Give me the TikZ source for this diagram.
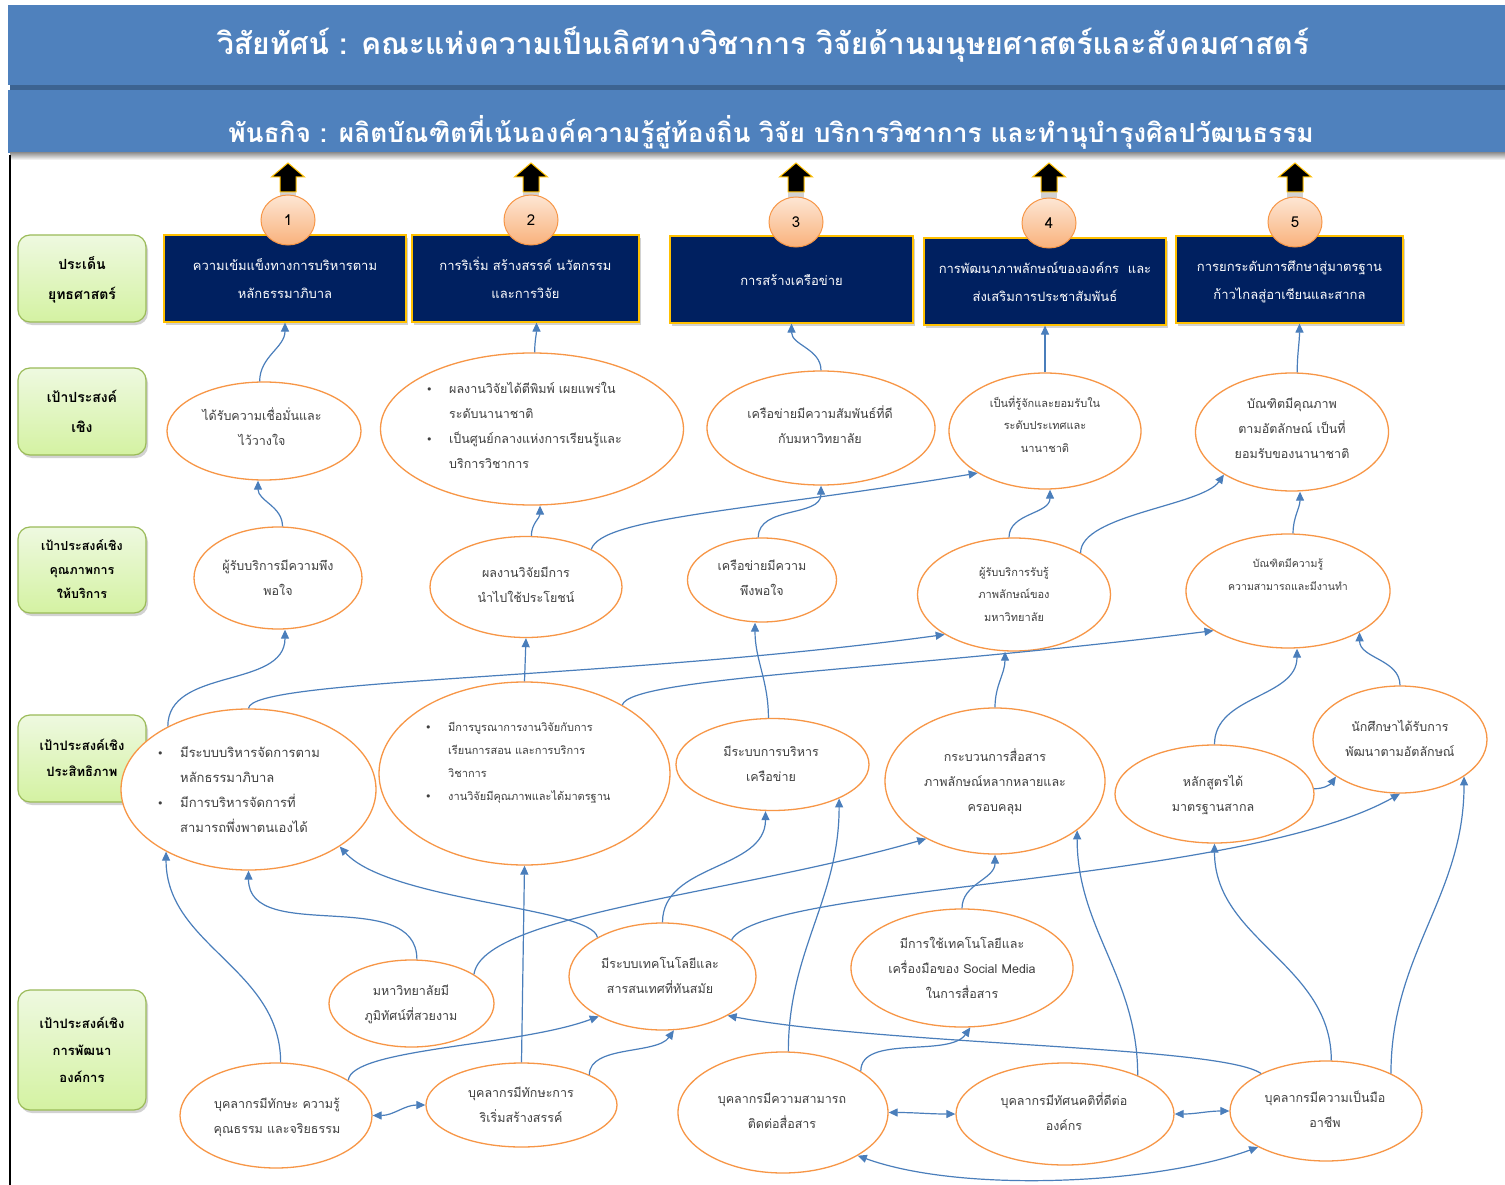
\documentclass[tikz,border=0pt]{standalone}
\usepackage{fontspec}
\newfontfamily\thai[Script=Thai]{Loma}
\newfontfamily\dejavu{DejaVu Sans}
\usetikzlibrary{shapes.geometric,arrows.meta,shadows}
\definecolor{hdrblue}{HTML}{4F81BD}
\definecolor{hdrdark}{HTML}{3C6391}
\definecolor{navy}{HTML}{002060}
\definecolor{gold}{HTML}{FFC000}
\definecolor{orng}{HTML}{F79646}
\definecolor{conncol}{HTML}{4A7EBB}
\definecolor{txtgray}{HTML}{404040}
\definecolor{grnborder}{HTML}{9BBB59}
\definecolor{grntop}{HTML}{EEF9E0}
\definecolor{grnbot}{HTML}{D4F2A2}
\definecolor{peachtop}{HTML}{FDE6D4}
\definecolor{peachbot}{HTML}{F9B27C}
\newcommand\bul{\makebox[23pt][l]{{\dejavu\fontsize{11}{11}\selectfont •}}}
\newcommand\ind{\hspace*{23pt}}
\begin{document}
\begin{tikzpicture}[x=1pt,y=-1pt,
 conn/.style={draw=conncol,line width=1.2pt,-{Triangle[length=9pt,width=8pt]}},
 bconn/.style={draw=conncol,line width=1.2pt,{Triangle[length=9pt,width=8pt]}-{Triangle[length=9pt,width=8pt]}},
 ell/.style={ellipse,draw=orng,line width=1.3pt,fill=white,inner sep=0pt},
 etxt/.style={text=txtgray,align=center,inner sep=0pt,font=\thai\fontsize{12.5}{25}\selectfont},
 stxt/.style={etxt,font=\thai\fontsize{11}{22.5}\selectfont},
 btxt/.style={etxt,align=left,anchor=west},
 shad/.style={drop shadow={opacity=0.35,shadow xshift=2pt,shadow yshift=-3pt}},
 grn/.style={rounded corners=12pt,draw=grnborder,line width=1.2pt,top color=grntop,bottom color=grnbot,minimum width=128pt,align=center,inner sep=0pt,font=\thai\bfseries\fontsize{14}{30}\selectfont,shad},
 navybox/.style={fill=navy,draw=gold,line width=1.2pt,text=white,align=center,inner sep=0pt,minimum height=87pt,font=\thai\fontsize{13}{28}\selectfont,shad},
 numc/.style={ellipse,draw=orng,line width=1pt,top color=peachtop,bottom color=peachbot,minimum width=54pt,minimum height=50pt,inner sep=0pt,font=\thai\fontsize{15}{15}\selectfont},
 hdrtxt/.style={text=white,inner sep=0pt,font=\thai\bfseries\fontsize{30}{30}\selectfont}
]
\useasboundingbox (0,0) rectangle (1505,1185);
\fill[white] (0,0) rectangle (1505,1185);
% header
\fill[hdrblue] (8,5) rectangle (1505,85);
\fill[hdrdark] (10,85) rectangle (1505,90);
\fill[hdrblue] (8,90) rectangle (1505,153);
\shade[top color=gray!80,bottom color=white] (10,153) rectangle (1505,160);
\draw[black,line width=2pt] (10,155) -- (10,1185);
\node[hdrtxt] (vision) at (763,45) {วิสัยทัศน์ : คณะแห่งความเป็นเลิศทางวิชาการ วิจัยด้านมนุษยศาสตร์และสังคมศาสตร์};
\node[hdrtxt,font=\thai\bfseries\fontsize{26.3}{30}\selectfont] (mission) at (771,132) {พันธกิจ : ผลิตบัณฑิตที่เน้นองค์ความรู้สู่ท้องถิ่น วิจัย บริการวิชาการ และทำนุบำรุงศิลปวัฒนธรรม};

% left labels
\node[grn,minimum height=87pt] (g1) at (82,278.5) {\strut ประเด็น\\\strut ยุทธศาสตร์};
\node[grn,minimum height=87pt] (g2) at (82,411.5) {\strut เป้าประสงค์\\\strut เชิง};
\node[grn,minimum height=86pt,font=\thai\bfseries\fontsize{12.5}{24}\selectfont] (g3) at (82,570) {\strut เป้าประสงค์เชิง\\\strut คุณภาพการ\\\strut ให้บริการ};
\node[grn,minimum height=87pt,font=\thai\bfseries\fontsize{13}{26}\selectfont] (g4) at (82,758.5) {\strut เป้าประสงค์เชิง\\\strut ประสิทธิภาพ};
\node[grn,minimum height=120pt,font=\thai\bfseries\fontsize{13}{27}\selectfont] (g5) at (82,1050) {\strut เป้าประสงค์เชิง\\\strut การพัฒนา\\\strut องค์การ};

% strategy boxes
\node[navybox,minimum width=242pt] (box1) at (285,278.5) {\strut ความเข้มแข็งทางการบริหารตาม\\\strut หลักธรรมาภิบาล};
\node[navybox,minimum width=227pt] (box2) at (525.5,278.5) {\strut การริเริ่ม สร้างสรรค์ นวัตกรรม\\\strut และการวิจัย};
\node[navybox,minimum width=243pt] (box3) at (791.5,279.5) {\strut การสร้างเครือข่าย};
\node[navybox,minimum width=242pt] (box4) at (1045,281.5) {\strut การพัฒนาภาพลักษณ์ขององค์กร~~และ\\\strut ส่งเสริมการประชาสัมพันธ์};
\node[navybox,minimum width=227pt] (box5) at (1289.5,279.5) {\strut การยกระดับการศึกษาสู่มาตรฐาน\\\strut ก้าวไกลสู่อาเซียนและสากล};

\foreach \i/\x/\y in {1/288/220,2/531/220,3/796/222,4/1049/223,5/1295/222}{
  \fill[gray!35] (\x-8,192) rectangle (\x+8,198);
  \filldraw[fill=black,draw=gold,line width=1pt] (\x,163) -- (\x+16.5,177) -- (\x+8,177) -- (\x+8,192) -- (\x-8,192) -- (\x-8,177) -- (\x-16.5,177) -- cycle;
  \node[numc] (n\i) at (\x,\y) {\i};
}

% row A
\node[ell,minimum width=194pt,minimum height=98pt] (A1) at (264,431) {};
\node[etxt] (A1t) at (262,428) {\strut ได้รับความเชื่อมั่นและ\\\strut ไว้วางใจ};
\node[ell,minimum width=303pt,minimum height=152pt] (A2) at (532,429) {};
\node[btxt] (A2t) at (426,425.5) {\strut\bul ผลงานวิจัยได้ตีพิมพ์ เผยแพร่ใน\\\strut\ind ระดับนานาชาติ\\\strut\bul เป็นศูนย์กลางแห่งการเรียนรู้และ\\\strut\ind บริการวิชาการ};
\node[ell,minimum width=228pt,minimum height=114pt] (A3) at (821,428) {};
\node[etxt] (A3t) at (820,425.5) {\strut เครือข่ายมีความสัมพันธ์ที่ดี\\\strut กับมหาวิทยาลัย};
\node[ell,minimum width=192pt,minimum height=116pt] (A4) at (1045,431) {};
\node[stxt] (A4t) at (1045,425) {\strut เป็นที่รู้จักและยอมรับใน\\\strut ระดับประเทศและ\\\strut นานาชาติ};
\node[ell,minimum width=193pt,minimum height=118pt] (A5) at (1292,432) {};
\node[etxt] (A5t) at (1292,428) {\strut บัณฑิตมีคุณภาพ\\\strut ตามอัตลักษณ์ เป็นที่\\\strut ยอมรับของนานาชาติ};

% row B
\node[ell,minimum width=168pt,minimum height=102pt] (B1) at (278,578) {};
\node[etxt] (B1t) at (278,578) {\strut ผู้รับบริการมีความพึง\\\strut พอใจ};
\node[ell,minimum width=192pt,minimum height=101pt] (B2) at (526,587) {};
\node[etxt] (B2t) at (526,585) {\strut ผลงานวิจัยมีการ\\\strut นำไปใช้ประโยชน์};
\node[ell,minimum width=149pt,minimum height=84pt] (B3) at (762,580) {};
\node[etxt] (B3t) at (762,578) {\strut เครือข่ายมีความ\\\strut พึงพอใจ};
\node[ell,minimum width=193pt,minimum height=113pt] (B4) at (1014,594.5) {};
\node[stxt] (B4t) at (1014,594) {\strut ผู้รับบริการรับรู้\\\strut ภาพลักษณ์ของ\\\strut มหาวิทยาลัย};
\node[ell,minimum width=204pt,minimum height=114pt] (B5) at (1288,591) {};
\node[stxt,font=\thai\fontsize{10.5}{22.5}\selectfont] (B5t) at (1288,574.5) {\strut บัณฑิตมีความรู้\\\strut ความสามารถและมีงานทำ};

% row C
\node[ell,minimum width=255pt,minimum height=161pt] (C1) at (248.5,789.5) {};
\node[btxt,font=\thai\fontsize{13}{25}\selectfont] (C1t) at (157,789.5) {\strut\bul มีระบบบริหารจัดการตาม\\\strut\ind หลักธรรมาภิบาล\\\strut\bul มีการบริหารจัดการที่\\\strut\ind สามารถพึ่งพาตนเองได้};
\node[ell,minimum width=291pt,minimum height=183pt] (C2) at (524.5,773.5) {};
\node[btxt,font=\thai\fontsize{11}{23}\selectfont] (C2t) at (425,761.5) {\strut\bul มีการบูรณาการงานวิจัยกับการ\\\strut\ind เรียนการสอน และการบริการ\\\strut\ind วิชาการ\\\strut\bul งานวิจัยมีคุณภาพและได้มาตรฐาน};
\node[ell,minimum width=193pt,minimum height=92pt] (C3) at (772.5,764.5) {};
\node[etxt] (C3t) at (771,764) {\strut มีระบบการบริหาร\\\strut เครือข่าย};
\node[ell,minimum width=220pt,minimum height=146pt] (C4) at (995,781) {};
\node[etxt] (C4t) at (995,781) {\strut กระบวนการสื่อสาร\\\strut ภาพลักษณ์หลากหลายและ\\\strut ครอบคลุม};
\node[ell,minimum width=199pt,minimum height=98pt] (C5) at (1214.5,794) {};
\node[etxt] (C5t) at (1213,793.5) {\strut หลักสูตรได้\\\strut มาตรฐานสากล};
\node[ell,minimum width=174pt,minimum height=107pt] (C6) at (1400,739.5) {};
\node[etxt] (C6t) at (1400,738.5) {\strut นักศึกษาได้รับการ\\\strut พัฒนาตามอัตลักษณ์};

% row D
\node[ell,minimum width=165pt,minimum height=87pt] (D1) at (411.5,1003.5) {};
\node[etxt] (D1t) at (411,1002.5) {\strut มหาวิทยาลัยมี\\\strut ภูมิทัศน์ที่สวยงาม};
\node[ell,minimum width=187pt,minimum height=107pt] (D2) at (662.5,976.5) {};
\node[etxt] (D2t) at (660,975.5) {\strut มีระบบเทคโนโลยีและ\\\strut สารสนเทศที่ทันสมัย};
\node[ell,minimum width=222pt,minimum height=118pt] (D3) at (962,968) {};
\node[etxt] (D3t) at (962,968) {\strut มีการใช้เทคโนโลยีและ\\\strut เครื่องมือของ Social Media\\\strut ในการสื่อสาร};

% row E
\node[ell,minimum width=192pt,minimum height=105pt] (E1) at (276,1115.5) {};
\node[etxt] (E1t) at (277,1115.5) {\strut บุคลากรมีทักษะ ความรู้\\\strut คุณธรรม และจริยธรรม};
\node[ell,minimum width=191pt,minimum height=84pt] (E2) at (521.5,1105) {};
\node[etxt] (E2t) at (521,1104.5) {\strut บุคลากรมีทักษะการ\\\strut ริเริ่มสร้างสรรค์};
\node[ell,minimum width=210pt,minimum height=121pt] (E3) at (783,1112.5) {};
\node[etxt] (E3t) at (782,1110.5) {\strut บุคลากรมีความสามารถ\\\strut ติดต่อสื่อสาร};
\node[ell,minimum width=218pt,minimum height=102pt] (E4) at (1065,1114) {};
\node[etxt] (E4t) at (1064,1113) {\strut บุคลากรมีทัศนคติที่ดีต่อ\\\strut องค์กร};
\node[ell,minimum width=192pt,minimum height=100pt] (E5) at (1326,1111) {};
\node[etxt] (E5t) at (1325,1109.5) {\strut บุคลากรมีความเป็นมือ\\\strut อาชีพ};

% connectors A -> boxes
\draw[conn] (A1.95) to[out=90,in=-90] (box1.south);
\draw[conn] (A2.88) to[out=90,in=-90] ([xshift=11pt]box2.south);
\draw[conn] (A3.north) to[out=90,in=-90] (box3.south);
\draw[conn] (A4.north) to[out=90,in=-90] (box4.south);
\draw[conn] (A5.85) to[out=90,in=-90] ([xshift=10pt]box5.south);
% B -> A
\draw[conn] (B1.85) to[out=90,in=-90] ([xshift=-6pt]A1.south);
\draw[conn] (B2.84) to[out=90,in=-90] ([xshift=8pt]A2.south);
\draw[conn] (B2.30) .. controls +(10,-32) and +(-230,38) .. (A4.212);
\draw[conn] (B3.95) to[out=90,in=-90] (A3.south);
\draw[conn] (B4.95) to[out=90,in=-90] ([xshift=5pt]A4.south);
\draw[conn] (B4.32) to[out=90,in=235,looseness=0.6] (A5.212);
\draw[conn] (B5.85) to[out=90,in=-90] ([xshift=8pt]A5.south);
% C -> B
\draw[conn] (C1.142) to[out=90,in=-90] ([xshift=7pt]B1.south);
\draw[conn] (C1.north) .. controls +(2,-30) and +(-330,45) .. (B4.210);
\draw[conn] (C2.north) -- (B2.south);
\draw[conn] (C2.35) .. controls +(8,-28) and +(-320,40) .. (B5.208);
\draw[conn] (C3.95) to[out=90,in=-90] ([xshift=-7pt]B3.south);
\draw[conn] (C4.north) to[out=90,in=-90] ([xshift=-9pt]B4.south);
\draw[conn] (C5.north) to[out=90,in=-90] ([xshift=9pt]B5.south);
\draw[conn] (C6.north) to[out=90,in=-90] (B5.330);
\draw[conn] (C5.3) to[out=0,in=235] (C6.210);
% D/E -> C
\draw[conn] (E1.85) to[out=90,in=-90] (C1.217);
\draw[conn] (D1.83) to[out=90,in=-90] (C1.south);
\draw[conn] (D2.149) .. controls +(-5,-30) and +(50,55) .. (C1.328);
\draw[conn] (E2.north) -- (C2.south);
\draw[conn] (D1.25) .. controls +(8,-60) and +(-190,55) .. (C4.220);
\draw[conn] (D2.north) to[out=90,in=-90] ([xshift=-7pt]C3.south);
\draw[conn] (D2.28) .. controls +(30,-55) and +(-160,90) .. (C6.south);
\draw[conn] (E3.85) to[out=90,in=-90] (C3.333);
\draw[conn] (D3.north) to[out=90,in=-90] (C4.south);
\draw[conn] (E4.28) to[out=90,in=-90] (C4.329);
\draw[conn] (E5.84) to[out=90,in=-90] (C5.south);
\draw[conn] (E5.30) to[out=90,in=-90] (C6.330);
% E -> D
\draw[conn] (E1.26) .. controls +(3,-32) and +(-80,30) .. (D2.212);
\draw[conn] (E2.24) to[out=90,in=235,looseness=0.8] (D2.282);
\draw[conn] (E3.28) to[out=90,in=235,looseness=0.8] (D3.278);
\draw[conn] (E5.150) .. controls +(-40,-28) and +(160,30) .. (D2.329);
% double arrows
\draw[bconn] (E1.0) to[out=0,in=180] (E2.180);
\draw[bconn] (E3.0) to[out=0,in=180] (E4.180);
\draw[bconn] (E4.0) to[out=0,in=180] (E5.180);
\draw[bconn] (E3.330) to[out=-20,in=200,looseness=0.7] (E5.208);
\end{tikzpicture}
\end{document}
